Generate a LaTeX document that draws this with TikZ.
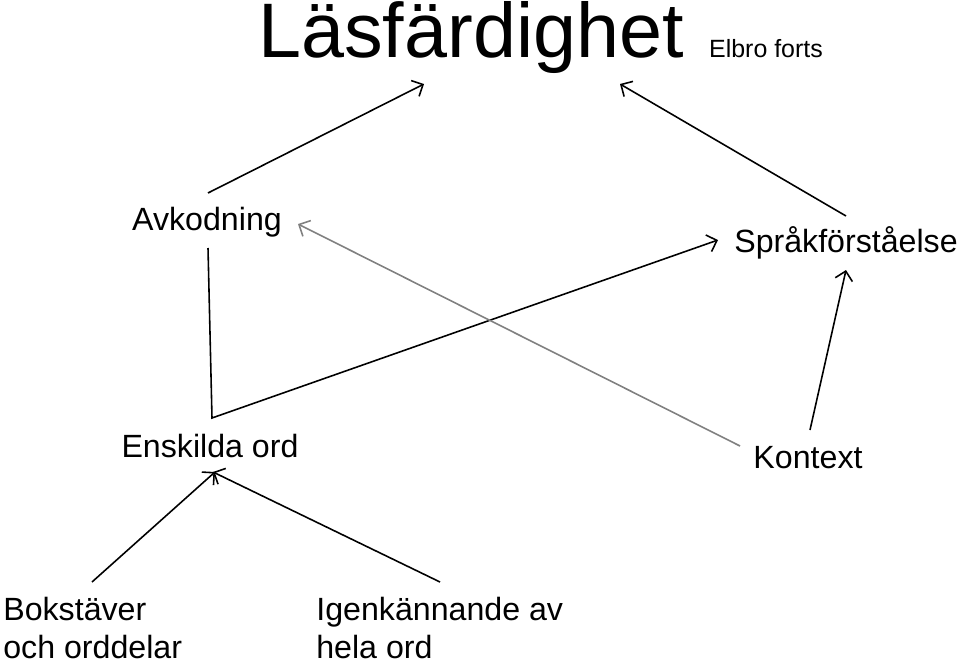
\documentclass[tikz,border=0pt]{standalone}
\usepackage{fontspec}
\setmainfont{Liberation Sans}
\usetikzlibrary{arrows.meta}
\begin{document}
\begin{tikzpicture}[x=0.02cm,y=-0.02cm,
  lbl/.style={font=\fontsize{18.3}{21.5}\selectfont, inner sep=0pt},
  link/.style={-{Straight Barb[length=5pt,width=10pt]}, line width=0.9pt}]
	\useasboundingbox (0,0) rectangle (960,663);
	% Titles
	\node[inner sep=0pt, font=\fontsize{44}{50}\selectfont] (title) at (471,38) {Läsfärdighet};
	\node[inner sep=0pt, font=\fontsize{14.2}{16}\selectfont] (sub) at (766,49) {Elbro forts};
	% Labels
	\node[lbl] (avk) at (207,222) {Avkodning};
	\node[lbl] (sprak) at (846,243) {Språkförståelse};
	\node[lbl] (ord) at (210,446) {Enskilda ord};
	\node[lbl] (kontext) at (808,458) {Kontext};
	\node[lbl, align=left, anchor=west] (bok) at (3,628) {Bokstäver\\och orddelar};
	\node[lbl, align=left, anchor=west] (igen) at (316,628) {Igenkännande av\\hela ord};
	% Connector ends
	\coordinate (a1) at (208,193); \coordinate (a2) at (424,84);
	\coordinate (s1) at (846,216); \coordinate (s2) at (620,84);
	\coordinate (e0) at (208,248); \coordinate (e1) at (212,418); \coordinate (e2) at (718,240);
	\coordinate (k1) at (740,446); \coordinate (k2) at (298,224);
	\coordinate (k3) at (810,430); \coordinate (k4) at (846,270);
	\coordinate (b1) at (92,582); \coordinate (b2) at (215,472);
	\coordinate (i1) at (440,582); \coordinate (i2) at (213,472);
	% Arrows
	\draw[link] (a1) -- (a2);
	\draw[link] (s1) -- (s2);
	\draw[link] (e0) -- (e1) -- (e2);
	\draw[link, gray] (k1) -- (k2);
	\draw[link] (k3) -- (k4);
	\draw[link] (b1) -- (b2);
	\draw[link] (i1) -- (i2);
\end{tikzpicture}
\end{document}
